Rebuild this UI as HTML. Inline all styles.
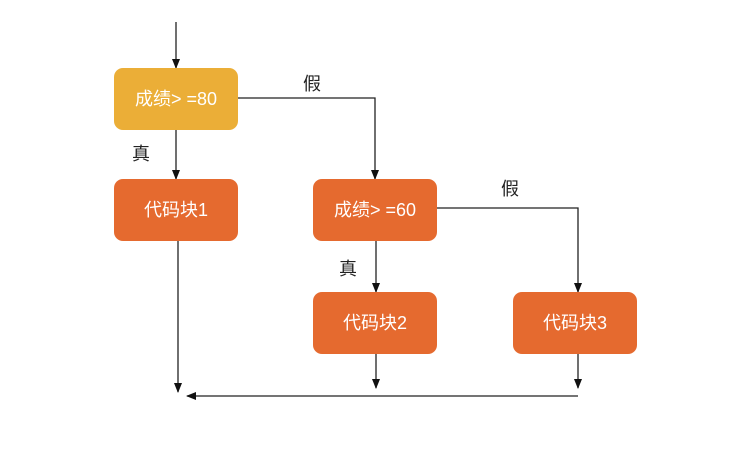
<!DOCTYPE html>
<html><head><meta charset="utf-8"><style>
body{margin:0;background:#fff;}
svg{display:block}
text{font-family:"Liberation Sans","Noto Sans CJK SC",sans-serif;}
</style></head><body>
<svg width="750" height="450" viewBox="0 0 750 450" xmlns="http://www.w3.org/2000/svg">
<defs><marker id="a" markerWidth="10" markerHeight="10" refX="9" refY="5" orient="auto" markerUnits="userSpaceOnUse"><path d="M0,1 L10,5 L0,9 z" fill="#111"/></marker></defs>
<g stroke="#222" stroke-width="1.3" fill="none" marker-end="url(#a)">
<line x1="176" y1="22" x2="176" y2="68"/>
<polyline points="238,98 375,98 375,179"/>
<line x1="176" y1="130" x2="176" y2="179"/>
<polyline points="437,208 578,208 578,292"/>
<line x1="376" y1="241" x2="376" y2="292"/>
<line x1="178" y1="241" x2="178" y2="392"/>
<line x1="376" y1="354" x2="376" y2="388"/>
<line x1="578" y1="354" x2="578" y2="388"/>
<line x1="578" y1="396" x2="187" y2="396"/>
</g>
<rect x="114" y="68" width="124" height="62" rx="9" fill="#EBAE37"/>
<rect x="114" y="179" width="124" height="62" rx="9" fill="#E56A2F"/>
<rect x="313" y="179" width="124" height="62" rx="9" fill="#E56A2F"/>
<rect x="313" y="292" width="124" height="62" rx="9" fill="#E56A2F"/>
<rect x="513" y="292" width="124" height="62" rx="9" fill="#E56A2F"/>
<g fill="#fff" font-size="18" text-anchor="middle">
<text x="176" y="105" xml:space="preserve">成绩&gt; =80</text>
<text x="176" y="216">代码块1</text>
<text x="375" y="216" xml:space="preserve">成绩&gt; =60</text>
<text x="375" y="329">代码块2</text>
<text x="575" y="329">代码块3</text>
</g>
<g fill="#222" font-size="18" text-anchor="middle">
<text x="312" y="90">假</text>
<text x="141" y="160">真</text>
<text x="510" y="195">假</text>
<text x="348" y="275">真</text>
</g>
</svg>
</body></html>
